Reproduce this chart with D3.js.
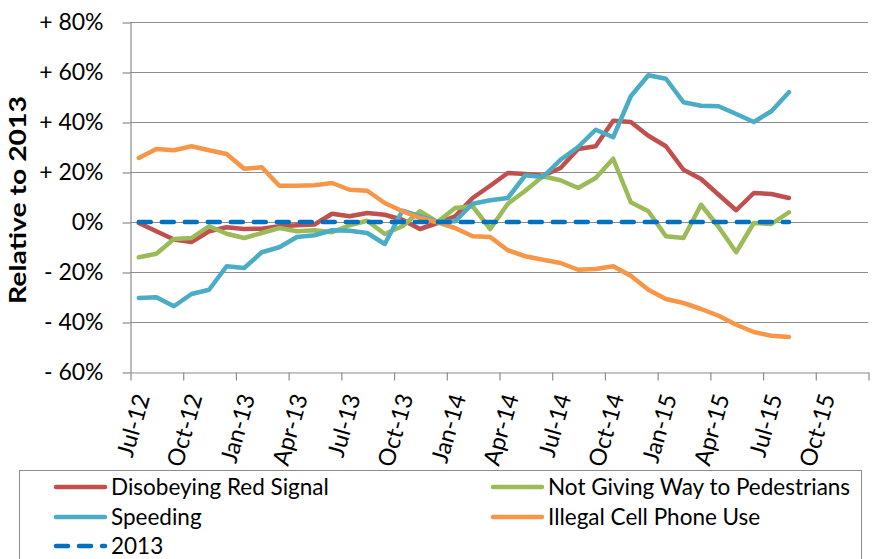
<!DOCTYPE html>
<html>
<head>
<meta charset="utf-8">
<script src="https://cdn.jsdelivr.net/npm/d3@7"></script>
<style>
  body { margin: 0; background: #fff; }
  text { font-family: Lato, "Liberation Sans", sans-serif; fill: #000; }
</style>
</head>
<body>
<div id="chart"></div>
<script>
// monthly values, Jul-12 .. Aug-15, % relative to 2013
var redSignal = [-0.4, -3.7, -7, -8, -3.7, -2.1, -2.8, -2.7, -1.7, -1.3, -1, 3.3, 2.3, 3.6, 2.9, 0.9,
    -2.8, -0.4, 2.3, 9.6, 14.5, 19.6, 19.2, 18.5, 21.6, 29.2, 30.3, 40.5, 40, 34.5, 30.3, 20.9,
    17.2, 10.9, 4.7, 11.6, 11.2, 9.6];
var pedestrians = [-14.1, -12.7, -6.8, -6.4, -1.7, -4.7, -6.4, -4.4, -2.4, -3.7, -3.3, -4.1, -1.3, 0.5, -4.8, -1.7,
    4.3, 0, 5.6, 6.3, -2.8, 7.3, 12.5, 18.3, 16.7, 13.6, 17.6, 25.3, 7.9, 4.3, -5.7, -6.4,
    6.9, -2, -12.1, -0.4, -0.8, 3.9];
var speeding = [-30.4, -30.1, -33.7, -28.8, -27.1, -17.7, -18.4, -12.1, -10.1, -6, -5.3, -3.3, -3.5, -4.4, -8.8, 4.5,
    2.3, 0, 0.3, 7.3, 8.7, 9.6, 18.7, 18, 24.9, 30, 36.9, 33.9, 50.3, 58.7, 57.3, 47.9,
    46.5, 46.3, 43.2, 40, 44.3, 51.9];
var cellPhone = [25.6, 29.2, 28.7, 30.3, 28.7, 27.2, 21.3, 21.9, 14.5, 14.5, 14.7, 15.6, 12.9, 12.5, 7.6, 4.3,
    1.6, -0.1, -2.4, -5.7, -6, -11.3, -13.7, -15.1, -16.4, -19.1, -18.8, -17.7, -21.5, -27.1, -30.8, -32.4,
    -34.8, -37.5, -41.1, -44, -45.5, -46];
var base2013 = redSignal.map(function() { return 0; });

var tickLabels = ["Jul-12", "Oct-12", "Jan-13", "Apr-13", "Jul-13", "Oct-13", "Jan-14",
    "Apr-14", "Jul-14", "Oct-14", "Jan-15", "Apr-15", "Jul-15", "Oct-15"];
var yTicks = [-60, -40, -20, 0, 20, 40, 60, 80];

var series = [
    { name: "Disobeying Red Signal", values: redSignal, colour: "#C0504D" },
    { name: "Not Giving Way to Pedestrians", values: pedestrians, colour: "#9BBB59" },
    { name: "Speeding", values: speeding, colour: "#4BACC6" },
    { name: "Illegal Cell Phone Use", values: cellPhone, colour: "#F79646" },
    { name: "2013", values: base2013, colour: "#0070C0", dashed: true }
];

var width = 882, height = 559;
var plotLeft = 130, plotRight = 868, plotTop = 22, plotBottom = 372;

var svg = d3.select("#chart").append("svg")
    .attr("width", width)
    .attr("height", height);

// one unit per month, axis spans Jul-12 .. Jan-16
var x = d3.scaleLinear().domain([0, 42]).range([plotLeft, plotRight]);
var y = d3.scaleLinear().domain([-60, 80]).range([plotBottom, plotTop]);

//gridlines
svg.selectAll(".grid")
    .data(yTicks.filter(function(d) { return d > -60; }))
    .enter().append("line")
    .attr("class", "grid")
    .attr("x1", plotLeft).attr("x2", plotRight)
    .attr("y1", function(d) { return Math.round(y(d)) + 0.5; })
    .attr("y2", function(d) { return Math.round(y(d)) + 0.5; })
    .attr("stroke", "#8c8c8c")
    .attr("stroke-width", 1.2);

//y axis
var yAxis = svg.append("g")
    .attr("transform", "translate(" + (plotLeft + 0.5) + ",0.5)")
    .call(d3.axisLeft(y).tickValues(yTicks).tickSize(8).tickSizeOuter(0).tickPadding(19)
        .tickFormat(function(d) {
            if (d > 0) return "+ " + d + "%";
            if (d < 0) return "- " + (-d) + "%";
            return "0%";
        }));
yAxis.selectAll("text").style("font-size", "23px");

//x axis
var xAxis = svg.append("g")
    .attr("transform", "translate(0.5," + (plotBottom + 0.5) + ")")
    .call(d3.axisBottom(x).tickValues(d3.range(0, 43, 3)).tickSize(8).tickSizeOuter(0)
        .tickFormat(function(d) { return tickLabels[d / 3] || ""; }));
xAxis.selectAll("text")
    .style("font-size", "23.5px")
    .style("text-anchor", "end")
    .attr("x", 0).attr("y", 0)
    .attr("dy", "0.35em")
    .attr("transform", "translate(11,22) rotate(-74)");

svg.selectAll(".domain, .tick line").attr("stroke", "#8c8c8c").attr("stroke-width", 1.2);

//axis title
svg.append("text")
    .attr("transform", "translate(26,200) rotate(-90)")
    .attr("text-anchor", "middle")
    .attr("textLength", 208)
    .attr("lengthAdjust", "spacingAndGlyphs")
    .style("font-size", "23px")
    .style("font-weight", "bold")
    .text("Relative to 2013");

var line = d3.line()
    .x(function(d, i) { return x(i + 0.5); })
    .y(function(d) { return y(d); });

svg.selectAll(".series")
    .data(series)
    .enter().append("path")
    .attr("class", "series")
    .attr("d", function(d) { return line(d.values); })
    .attr("fill", "none")
    .attr("stroke", function(d) { return d.colour; })
    .attr("stroke-width", 4.5)
    .attr("stroke-linejoin", "round")
    .attr("stroke-linecap", "round")
    .attr("stroke-dasharray", function(d) { return d.dashed ? "12,11" : null; });

//legend
svg.append("rect")
    .attr("x", 19.5).attr("y", 470.5)
    .attr("width", 842).attr("height", 120)
    .attr("fill", "none")
    .attr("stroke", "#8c8c8c");

var legendPos = [[54, 487], [491, 487], [54, 517], [491, 517], [54, 546]];

var legend = svg.selectAll(".legend")
    .data(series)
    .enter().append("g")
    .attr("class", "legend")
    .attr("transform", function(d, i) { return "translate(" + legendPos[i][0] + "," + legendPos[i][1] + ")"; });

legend.append("line")
    .attr("x1", 2).attr("x2", 51)
    .attr("stroke", function(d) { return d.colour; })
    .attr("stroke-width", 4.5)
    .attr("stroke-linecap", "round")
    .attr("stroke-dasharray", function(d) { return d.dashed ? "12,11" : null; });

legend.append("text")
    .attr("x", 57)
    .attr("dy", "0.35em")
    .style("font-size", "22.5px")
    .text(function(d) { return d.name; });
</script>
</body>
</html>
